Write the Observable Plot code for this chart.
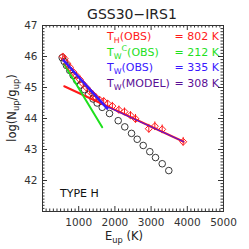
<!DOCTYPE html>
<html>
<head>
<meta charset="utf-8">
<script src="https://cdn.jsdelivr.net/npm/d3@7"></script>
<script src="https://cdn.jsdelivr.net/npm/@observablehq/plot@0.6"></script>
<style>
  html, body { margin: 0; padding: 0; background: #fff; }
  svg text { font-family: "DejaVu Sans", sans-serif; }
</style>
</head>
<body>
<div id="chart"></div>
<script>
// ---- data ----
const modelE = [544, 600, 663, 752, 846, 945, 1050, 1160, 1276, 1397, 1510, 1649, 1851, 2091, 2273, 2459, 2616, 2782, 2964, 3122, 3307, 3489];
const modelV = [45.96, 45.84, 45.71, 45.55, 45.39, 45.23, 45.08, 44.93, 44.78, 44.63, 44.50, 44.36, 44.16, 43.93, 43.73, 43.52, 43.33, 43.13, 42.93, 42.74, 42.54, 42.32];

const obsE = [560, 610, 680, 760, 850, 940, 1030, 1120, 1210, 1300, 1390, 1480, 1580, 1690, 1800, 1930, 2110, 2265, 2431, 2569, 2937, 3103, 3306, 3886];
const obsV = [46.00, 45.93, 45.78, 45.65, 45.50, 45.38, 45.26, 45.12, 45.00, 44.88, 44.78, 44.68, 44.60, 44.56, 44.48, 44.40, 44.28, 44.22, 44.10, 43.99, 43.67, 43.75, 43.65, 43.25];
const obsErr = [0.08, 0.08, 0.08, 0.08, 0.08, 0.08, 0.08, 0.08, 0.08, 0.08, 0.08, 0.08, 0.1, 0.1, 0.1, 0.12, 0.12, 0.12, 0.12, 0.14, 0.14, 0.14, 0.14, 0.14];

const hotFitE = [600, 3900];   const hotFitV = [45.04, 43.25];   // T_H(OBS) = 802 K
const warmCFitE = [600, 1650]; const warmCFitV = [45.75, 43.72]; // T_W^C(OBS) = 212 K
const warmFitE = [580, 1790];  const warmFitV = [45.88, 44.32];  // T_W(OBS) = 335 K
const comboE = [1790, 3900];   const comboV = [44.38, 43.25];

const xTickLabels = [1000, 2000, 3000, 4000, 5000];
const yTickLabels = [42, 43, 44, 45, 46, 47];

const legendRows = [
  {name: ["T", "H", "", "(OBS)"], value: "= 802 K", color: "#ff1a1a"},
  {name: ["T", "W", "C", "(OBS)"], value: "= 212 K", color: "#1ee01e"},
  {name: ["T", "W", "", "(OBS)"], value: "= 335 K", color: "#3a18ff"},
  {name: ["T", "W", "", "(MODEL)"], value: "= 308 K", color: "#5a0f96"}
];

// ---- build ----
const model = modelE.map((e, i) => ({E: e, v: modelV[i]}));
const obs = obsE.map((e, i) => ({E: e, v: obsV[i], err: obsErr[i]}));
const toPts = (es, vs) => es.map((e, i) => ({E: e, v: vs[i]}));

const W = 249, H = 249, mL = 42, mR = 26, mT = 25, mB = 38;
const fw = W - mL - mR, fh = H - mT - mB;
const major = 5, minor = 2.5;
const axisColor = "#333";

const xMajor = [1000, 2000, 3000, 4000];
const xMinor = d3.range(100, 5000, 100).filter(d => d % 1000 !== 0);
const yMajor = [42, 43, 44, 45, 46];
const yMinor = d3.range(41.1, 47, 0.1).map(d => +d.toFixed(1)).filter(d => Math.abs(d - Math.round(d)) > 1e-6);

const red = "#ff1a1a", green = "#1ee01e", blue = "#3a18ff";

const svg = Plot.plot({
  width: W, height: H,
  marginLeft: mL, marginRight: mR, marginTop: mT, marginBottom: mB,
  style: {fontFamily: "DejaVu Sans, sans-serif", fontSize: "10.5px", color: axisColor, background: "#fff"},
  x: {domain: [0, 5000]},
  y: {domain: [41, 47]},
  marks: [
    Plot.axisX(xTickLabels, {tickSize: 0, tickPadding: 7, label: null, fill: axisColor, tickFormat: d3.format("d")}),
    Plot.axisY(yTickLabels, {tickSize: 0, tickPadding: 5, label: null, fill: axisColor, tickFormat: d3.format("d")}),
    // inward ticks on four sides
    Plot.ruleX(xMajor, {insetTop: fh - major, stroke: axisColor}),
    Plot.ruleX(xMajor, {insetBottom: fh - major, stroke: axisColor}),
    Plot.ruleX(xMinor, {insetTop: fh - minor, stroke: axisColor}),
    Plot.ruleX(xMinor, {insetBottom: fh - minor, stroke: axisColor}),
    Plot.ruleY(yMajor, {insetRight: fw - major, stroke: axisColor}),
    Plot.ruleY(yMajor, {insetLeft: fw - major, stroke: axisColor}),
    Plot.ruleY(yMinor, {insetRight: fw - minor, stroke: axisColor}),
    Plot.ruleY(yMinor, {insetLeft: fw - minor, stroke: axisColor}),
    Plot.frame({stroke: axisColor}),
    // model
    Plot.dot(model, {x: "E", y: "v", r: 3.3, stroke: "#222", strokeWidth: 0.9, fill: "none"}),
    // fits
    Plot.line(toPts(hotFitE, hotFitV), {x: "E", y: "v", stroke: red, strokeWidth: 2}),
    Plot.line(toPts(warmCFitE, warmCFitV), {x: "E", y: "v", stroke: green, strokeWidth: 2}),
    // observations
    Plot.ruleX(obs, {x: "E", y1: d => d.v - d.err, y2: d => d.v + d.err, stroke: red, strokeWidth: 1}),
    Plot.dot(obs, {x: "E", y: "v", symbol: "diamond2", r: 3.2, stroke: red, strokeWidth: 1, fill: "none"}),
    Plot.line(toPts(warmFitE, warmFitV), {x: "E", y: "v", stroke: blue, strokeWidth: 2.5}),
    Plot.line(toPts(comboE, comboV), {x: "E", y: "v", stroke: blue, strokeWidth: 1})
  ]
});

const s = d3.select(svg);
const textColor = "#222";

// title
s.append("text").attr("x", 132).attr("y", 19).attr("text-anchor", "middle")
  .attr("font-size", 14).attr("fill", textColor).text("GSS30\u2212IRS1");

// helper for sub/superscript text
function rich(sel, parts) {
  parts.forEach(p => {
    const ts = sel.append("tspan").text(p.t);
    if (p.sub || p.sup) ts.attr("font-size", "0.72em");
    if (p.dy) ts.attr("dy", p.dy);
  });
}

// x label
const xl = s.append("text").attr("x", 124).attr("y", 240).attr("text-anchor", "middle")
  .attr("font-size", 11.5).attr("fill", textColor);
rich(xl, [{t: "E"}, {t: "up", sub: true, dy: 3}, {t: " (K)", dy: -3}]);

// y label
const yl = s.append("text").attr("transform", "translate(16,108) rotate(-90)").attr("text-anchor", "middle")
  .attr("font-size", 11.5).attr("fill", textColor);
rich(yl, [{t: "log(N"}, {t: "up", sub: true, dy: 3}, {t: "/g", dy: -3}, {t: "up", sub: true, dy: 3}, {t: ")", dy: -3}]);

// legend
legendRows.forEach((row, i) => {
  const y = 40 + i * 15.7;
  const t = s.append("text").attr("x", 107).attr("y", y).attr("text-anchor", "start")
    .attr("font-size", 11).attr("fill", row.color);
  const [base, sub, sup, rest] = row.name;
  const parts = [{t: base}, {t: sub, sub: true, dy: 3}];
  if (sup) {
    parts.push({t: sup, sup: true, dy: -8});
    parts.push({t: rest, dy: 5});
  } else {
    parts.push({t: rest, dy: -3});
  }
  rich(t, parts);
  s.append("text").attr("x", 219).attr("y", y).attr("text-anchor", "end")
    .attr("font-size", 11).attr("fill", row.color).text(row.value);
});

// TYPE H
s.append("text").attr("x", 60).attr("y", 197).attr("text-anchor", "start").attr("font-size", 11)
  .attr("fill", "#111").text("TYPE H");

document.getElementById("chart").appendChild(svg);
</script>
</body>
</html>
